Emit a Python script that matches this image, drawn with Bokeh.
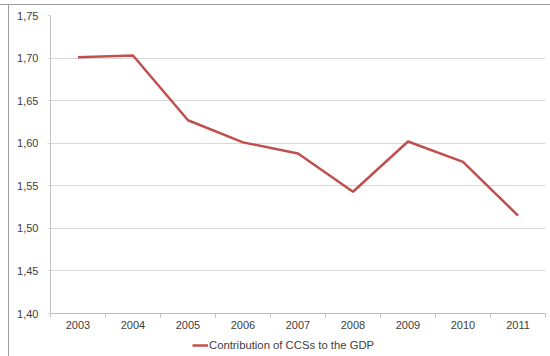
from bokeh.plotting import figure
from bokeh.layouts import column
from bokeh.models import FixedTicker, CustomJSTickFormatter, Range1d, Legend, LegendItem
from bokeh.embed import file_html
from bokeh.resources import INLINE

years = ["2003", "2004", "2005", "2006", "2007", "2008", "2009", "2010", "2011"]
values = [1.701, 1.703, 1.627, 1.601, 1.588, 1.543, 1.602, 1.578, 1.515]
series_name = "Contribution of CCSs to the GDP"
y_ticks = [1.40, 1.45, 1.50, 1.55, 1.60, 1.65, 1.70, 1.75]

xs = list(range(len(years)))
line_color = "#c0504d"
font = "Liberation Sans"
txt = "#404040"

p = figure(width=550, height=338, output_backend="svg", toolbar_location=None,
           x_range=Range1d(-0.5, len(years) - 0.5), y_range=Range1d(1.40, 1.75),
           min_border_left=50, min_border_right=5, min_border_top=15, min_border_bottom=25)
p.outline_line_color = None
p.background_fill_color = "white"
p.border_fill_color = None

r = p.line(xs, values, line_color=line_color, line_width=2.5)

# x axis
xa = p.xaxis[0]
xa.ticker = FixedTicker(ticks=xs, minor_ticks=[i - 0.5 for i in range(len(years) + 1)])
xa.major_label_overrides = {i: y for i, y in enumerate(years)}
xa.major_tick_out = 0
xa.major_tick_in = 0
xa.minor_tick_out = 4
xa.minor_tick_in = 0
xa.minor_tick_line_color = "#bfbfbf"
xa.axis_line_color = "#bfbfbf"
xa.major_label_text_font = font
xa.major_label_text_font_size = "11px"
xa.major_label_text_color = txt
xa.major_label_standoff = 3

# y axis
ya = p.yaxis[0]
ya.ticker = FixedTicker(ticks=y_ticks, minor_ticks=[])
ya.formatter = CustomJSTickFormatter(code="return tick.toFixed(2).replace('.', ',');")
ya.major_tick_out = 3
ya.major_tick_in = 0
ya.major_tick_line_color = "#d9d9d9"
ya.axis_line_color = "#bfbfbf"
ya.major_label_text_font = font
ya.major_label_text_font_size = "11px"
ya.major_label_text_color = txt
ya.major_label_standoff = 9

p.xgrid.grid_line_color = None
p.ygrid.grid_line_color = "#d9d9d9"
p.ygrid.grid_line_width = 1

# legend strip below the chart
lg = figure(width=550, height=18, output_backend="svg", toolbar_location=None,
            x_range=Range1d(-0.5, len(years) - 0.5), y_range=Range1d(0, 1),
            x_axis_location=None, y_axis_location=None, min_border=0)
lg.outline_line_color = None
lg.border_fill_color = None
lg.background_fill_color = None
lg.xgrid.grid_line_color = None
lg.ygrid.grid_line_color = None
lr = lg.line(xs, values, line_color=line_color, line_width=2.5)

legend = Legend(items=[LegendItem(label=series_name, renderers=[lr])],
                location=(142, 5), orientation="horizontal",
                border_line_color=None, background_fill_alpha=0,
                label_text_font=font, label_text_font_size="11.3px", label_text_color=txt,
                glyph_width=16, glyph_height=10, label_standoff=1,
                padding=0, margin=0, spacing=0, label_height=12)
lg.add_layout(legend, "center")

frame_styles = {
    "background-color": "white",
    "background-image": "linear-gradient(#a0a0a0, #a0a0a0), linear-gradient(#a0a0a0, #a0a0a0)",
    "background-size": "1px 352px, 100% 1px",
    "background-position": "8px 4px, 0px 4px",
    "background-repeat": "no-repeat",
}
layout = column(p, lg, spacing=0, styles=frame_styles)
open("out.html", "w").write(file_html(layout, INLINE))
